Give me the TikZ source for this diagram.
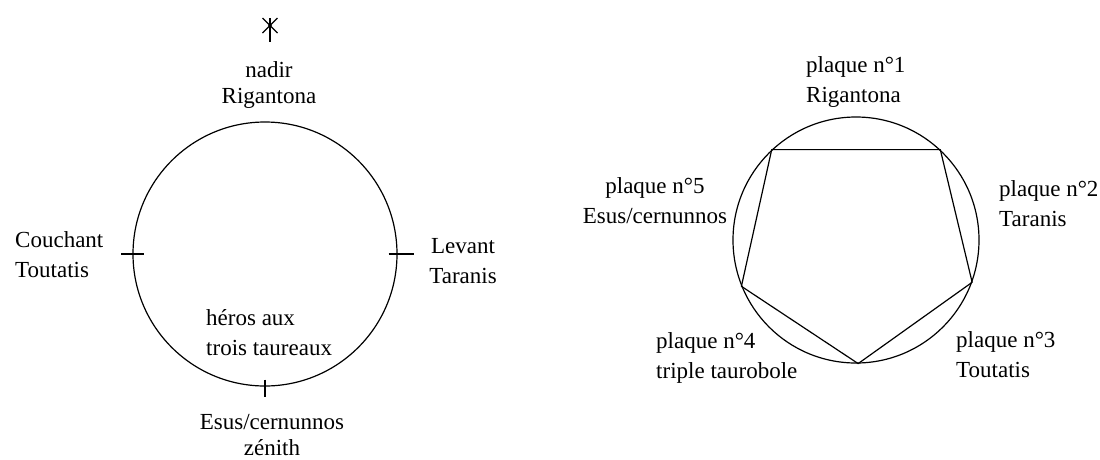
\documentclass[tikz,border=0pt]{standalone}
\usepackage{fontspec}
\setmainfont{Liberation Serif}
\usepackage{tikz}
\usetikzlibrary{positioning}

\begin{document}
\begin{tikzpicture}[x=1pt,y=-1pt,
  font=\fontsize{23}{30}\selectfont,
  ring/.style={circle,draw,line width=1.2pt,inner sep=0pt},
  lbl/.style={inner sep=0pt,align=center},
  lbll/.style={lbl,align=left,anchor=west},
  tight/.style={font=\fontsize{23}{26}\selectfont},
  tickline/.style={line width=1.2pt},
  side/.style={line width=1.2pt,line join=round}]
\useasboundingbox (0,0) rectangle (1100,459);
\node[ring,minimum size=264pt] (ring1) at (265,254) {};
\node[ring,minimum size=246pt] (ring2) at (856,240) {};
\coordinate (star) at (270,25.5);
\draw[tickline] (star) ++(0,-7.5) -- ++(0,24);
\draw[tickline] (star) ++(-7.5,-7.5) -- ++(15,15);
\draw[tickline] (star) ++(7.5,-7.5) -- ++(-15,15);
\fill (star) circle[radius=1.8pt];
\draw[tickline] (ring1.west) ++(-11,0) -- ++(23,0);
\draw[tickline] (ring1.east) ++(-9,0) -- ++(25,0);
\draw[tickline] (ring1.south) ++(0,-7) -- ++(0,17);
\node[lbl,tight] (nadir) at (269,85) {nadir\\Rigantona};
\node[lbll] (couchant) at (15,255) {Couchant\\Toutatis};
\node[lbl] (levant) at (463,261.5) {Levant\\Taranis};
\node[lbll] (heros) at (206,333) {héros aux\\trois taureaux};
\node[lbl,tight] (zenith) at (272,435) {Esus/cernunnos\\zénith};
\draw[side] (ring2.133) -- (ring2.47) -- (ring2.-20) -- (ring2.-89) -- (ring2.-158.5) -- cycle;
\node[lbll] (plaque1) at (806,81.5) {plaque n°1\\Rigantona};
\node[lbl] (plaque5) at (655,201) {plaque n°5\\Esus/cernunnos};
\node[lbll] (plaque2) at (999,204) {plaque n°2\\Taranis};
\node[lbll] (plaque4) at (656,357.5) {plaque n°4\\triple taurobole};
\node[lbll] (plaque3) at (956,355) {plaque n°3\\Toutatis};
\end{tikzpicture}
\end{document}
